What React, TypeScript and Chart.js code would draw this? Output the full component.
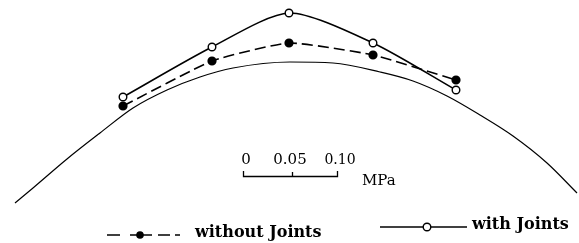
import React, { useEffect, useRef } from "react";
import { Chart, registerables } from "chart.js";

Chart.register(...registerables);

// Arch outline (x position, height)
const archX = [15, 33, 67, 100, 133, 167, 200, 233, 290, 333, 380, 413, 447, 480, 513, 547, 577];
const archH = [40, 55, 84, 110, 135, 153, 166, 175, 181, 180, 171, 162, 147, 128, 107, 80, 50];

// Measured points along the arch
const pointX = [123, 212, 289, 373, 456];
const withoutJoints = [137, 182, 200, 188, 163];
const withJoints = [146, 196, 230, 200, 153];

const scaleTicks = ["0", "0.05", "0.10"];
const scaleUnit = "MPa";
const legendLabels = ["without Joints", "with Joints"];

const W = 579;
const H = 243;

const overlayPlugin = {
  id: "overlay",
  afterDraw(chart: any) {
    const ctx = chart.ctx as CanvasRenderingContext2D;
    ctx.save();
    ctx.strokeStyle = "#000";
    ctx.fillStyle = "#000";
    // scale bar
    ctx.font = "15px 'DejaVu Serif'";
    ctx.textBaseline = "middle";
    ctx.textAlign = "center";
    ctx.fillText(scaleTicks[0], 246, 160);
    ctx.fillText(scaleTicks[1], 290, 160);
    ctx.font = "14px 'DejaVu Serif'";
    ctx.fillText(scaleTicks[2], 340, 160);
    ctx.font = "15px 'DejaVu Serif'";
    ctx.lineWidth = 1.3;
    ctx.beginPath();
    ctx.moveTo(243.5, 171);
    ctx.lineTo(243.5, 176.5);
    ctx.lineTo(337.5, 176.5);
    ctx.lineTo(337.5, 171);
    ctx.moveTo(292.5, 172);
    ctx.lineTo(292.5, 176.5);
    ctx.stroke();
    ctx.textAlign = "left";
    ctx.fillText(scaleUnit, 362, 181);

    // legend 1 (dashed, filled)
    ctx.lineWidth = 1.6;
    ctx.beginPath();
    ctx.moveTo(107, 235);
    ctx.lineTo(120, 235);
    ctx.moveTo(130, 235);
    ctx.lineTo(152, 235);
    ctx.moveTo(158, 235);
    ctx.lineTo(170, 235);
    ctx.moveTo(175, 235);
    ctx.lineTo(180, 235);
    ctx.stroke();
    ctx.beginPath();
    ctx.arc(140, 235, 3.8, 0, Math.PI * 2);
    ctx.fill();
    ctx.font = "bold 16px 'DejaVu Serif'";
    ctx.fillText(legendLabels[0], 195, 233);

    // legend 2 (solid, open)
    ctx.beginPath();
    ctx.moveTo(380, 227);
    ctx.lineTo(467, 227);
    ctx.stroke();
    ctx.beginPath();
    ctx.arc(427, 227, 3.8, 0, Math.PI * 2);
    ctx.fillStyle = "#fff";
    ctx.fill();
    ctx.lineWidth = 1.4;
    ctx.stroke();
    ctx.fillStyle = "#000";
    ctx.fillText(legendLabels[1], 472, 225);
    ctx.restore();
  },
};

export default function App() {
  const ref = useRef<HTMLCanvasElement>(null);
  useEffect(() => {
    if (!ref.current) return;
    const chart = new Chart(ref.current, {
      type: "scatter",
      data: {
        datasets: [
          {
            label: "arch",
            data: archX.map((x, i) => ({ x, y: archH[i] })),
            showLine: true,
            borderColor: "#000",
            borderWidth: 1.2,
            pointRadius: 0,
            cubicInterpolationMode: "monotone",
          },
          {
            label: legendLabels[0],
            data: pointX.map((x, i) => ({ x, y: withoutJoints[i] })),
            showLine: true,
            borderColor: "#000",
            borderWidth: 1.6,
            borderDash: [11, 5],
            pointRadius: 3.8,
            pointBackgroundColor: "#000",
            pointBorderColor: "#000",
            tension: 0.15,
          },
          {
            label: legendLabels[1],
            data: pointX.map((x, i) => ({ x, y: withJoints[i] })),
            showLine: true,
            borderColor: "#000",
            borderWidth: 1.6,
            pointRadius: 3.8,
            pointBackgroundColor: "#fff",
            pointBorderColor: "#000",
            pointBorderWidth: 1.4,
            tension: 0.25,
          },
        ],
      },
      options: {
        animation: false,
        responsive: false,
        layout: { padding: 0, autoPadding: false },
        plugins: { legend: { display: false }, tooltip: { enabled: false } },
        scales: {
          x: { type: "linear", min: 0, max: W, display: false },
          y: { type: "linear", min: 0, max: H, display: false },
        },
        elements: { line: { capBezierPoints: false } },
      },
      plugins: [overlayPlugin],
    });
    return () => chart.destroy();
  }, []);
  return (
    <div style={{ position: "absolute", left: 0, top: 0, width: W, height: H, background: "#fff" }}>
      <canvas ref={ref} width={W} height={H} />
    </div>
  );
}
